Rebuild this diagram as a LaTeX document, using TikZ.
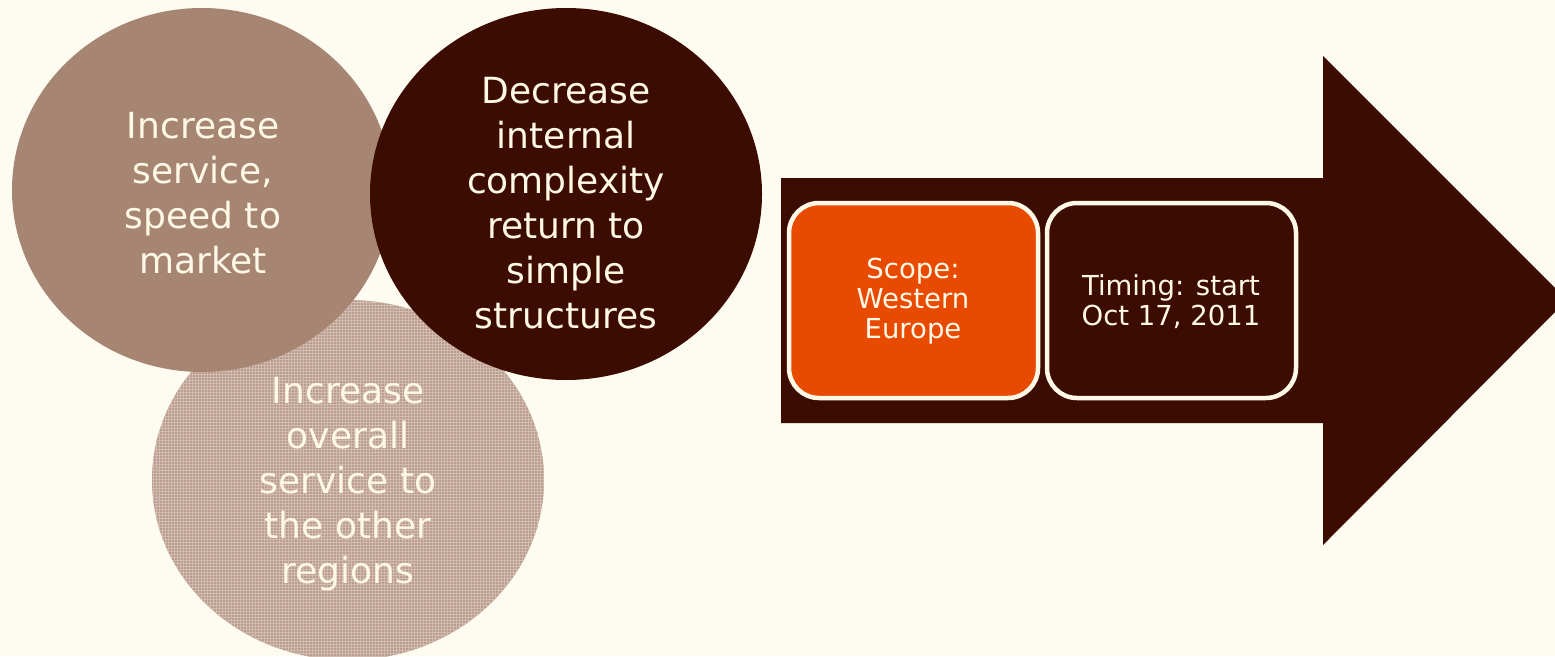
\documentclass[tikz,border=0pt]{standalone}
\usepackage{fontspec}
\setmainfont{DejaVu Sans}
\usetikzlibrary{shapes.geometric,patterns}
\definecolor{bg}{HTML}{FEFBF0}
\definecolor{lightbrown}{HTML}{A68573}
\definecolor{darkbrown}{HTML}{3D0C00}
\definecolor{texbrown}{HTML}{B99C8E}
\definecolor{texlight}{HTML}{D2BCB0}
\definecolor{orangebox}{HTML}{E84A00}
\definecolor{cream}{HTML}{FFF8E6}
\tikzset{
  bubble/.style={ellipse, inner sep=0pt, text=cream, align=center,
    font=\fontsize{36}{45}\selectfont},
  tilebox/.style={draw=cream, line width=4.5pt, rounded corners=30pt},
  tiletext/.style={text=cream, align=center, font=\fontsize{27.5}{30}\selectfont}
}
\begin{document}
\begin{tikzpicture}[x=1pt,y=-1pt]
\useasboundingbox (0,0) rectangle (1555,656);
\fill[bg] (0,0) rectangle (1555,656);
\begin{scope}
\clip (0,0) rectangle (1555,656);
% circles
\node[bubble, fill=texbrown, minimum width=392pt, minimum height=360pt] (c3) at (348,480) {};
\path[pattern=grid, pattern color=texlight] (c3.center) ellipse [x radius=196pt, y radius=180pt];
\node[bubble, fill=lightbrown, minimum width=380pt, minimum height=364pt] (c1) at (202,190) {};
\node[bubble, fill=darkbrown, minimum width=392pt, minimum height=372pt] (c2) at (566,194) {};
\node[bubble] (t1) at (203,193) {Increase\\service,\\speed to\\market};
\node[bubble] (t2) at (566,203) {Decrease\\internal\\complexity\\return to\\simple\\structures};
\node[bubble] (t3) at (348,484) {Increase\\overall\\service to\\the other\\regions};
% arrow
\fill[darkbrown] (781,178) -- (1323,178) -- (1323,56) -- (1567,300) -- (1323,545) -- (1323,423) -- (781,423) -- cycle;
\end{scope}
% boxes
\draw[tilebox, fill=orangebox] (789,203) rectangle (1038,398);
\draw[tilebox, fill=darkbrown] (1047,203) rectangle (1296,398);
\node[tiletext] (scope) at (913,301) {Scope:\\Western\\Europe};
\node[tiletext] (timing) at (1171,302) {Timing: start\\Oct 17, 2011};
\end{tikzpicture}
\end{document}
